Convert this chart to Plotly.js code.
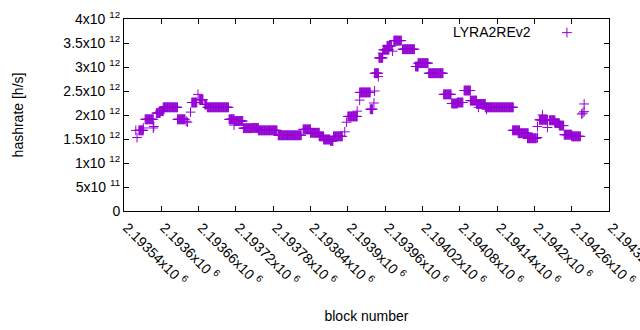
<!DOCTYPE html>
<html>
<head>
<meta charset="utf-8">
<script src="https://cdn.plot.ly/plotly-3.0.1.min.js"></script>
<style>html,body{margin:0;padding:0;background:#fff;}#chart{width:640px;height:330px;}</style>
</head>
<body>
<div id="chart"></div>
<script>
// Each entry: a run of consecutive blocks (start..end) sharing one hashrate reading (h/s)
const runStart = [2193559,2193561,2193564,2193571,2193574,2193587,2193588,2193592,2193598,2193603,2193626,2193640,2193642,2193647,2193649,2193659,2193661,2193670,2193674,2193709,2193717,2193718,2193732,2193746,2193756,2193788,2193828,2193840,2193854,2193861,2193872,2193877,2193895,2193898,2193900,2193915,2193919,2193919,2193936,2193942,2193943,2193943,2193949,2193950,2193956,2193957,2193963,2193972,2193974,2193988,2194009,2194013,2194030,2194054,2194067,2194076,2194087,2194097,2194107,2194110,2194121,2194123,2194165,2194174,2194189,2194205,2194205,2194208,2194213,2194221,2194224,2194233,2194240,2194248,2194260,2194276,2194278,2194280,2194280];
const runEnd   = [2193559,2193561,2193571,2193571,2193587,2193587,2193588,2193598,2193603,2193626,2193638,2193640,2193642,2193647,2193657,2193659,2193667,2193673,2193708,2193717,2193717,2193731,2193745,2193756,2193786,2193825,2193840,2193854,2193861,2193871,2193876,2193891,2193895,2193898,2193915,2193915,2193919,2193936,2193940,2193942,2193943,2193949,2193949,2193956,2193956,2193966,2193970,2193972,2193986,2194007,2194013,2194029,2194053,2194066,2194076,2194085,2194097,2194107,2194121,2194110,2194166,2194123,2194176,2194190,2194203,2194205,2194205,2194221,2194213,2194221,2194233,2194240,2194247,2194260,2194274,2194276,2194278,2194280,2194280];
const runHashrate = [1.68e12,1.53e12,1.68e12,1.73e12,1.91e12,1.73e12,1.76e12,2.04e12,2.08e12,2.16e12,1.91e12,1.87e12,1.85e12,2.06e12,2.26e12,2.43e12,2.32e12,2.22e12,2.16e12,1.91e12,1.79e12,1.875e12,1.725e12,1.73e12,1.68e12,1.577e12,1.70e12,1.63e12,1.555e12,1.49e12,1.46e12,1.555e12,1.65e12,1.85e12,1.97e12,2.08e12,2.31e12,2.47e12,2.12e12,2.25e12,2.50e12,2.87e12,2.80e12,3.19e12,3.29e12,3.36e12,3.44e12,3.33e12,3.55e12,3.37e12,3.01e12,3.08e12,2.87e12,2.43e12,2.24e12,2.26e12,2.51e12,2.30e12,2.23e12,2.16e12,2.16e12,2.12e12,1.68e12,1.62e12,1.515e12,1.53e12,1.76e12,1.90e12,2.0e12,1.74e12,1.89e12,1.83e12,1.78e12,1.59e12,1.555e12,2.02e12,2.04e12,2.07e12,2.23e12];

const xTickVals = [2193540,2193600,2193660,2193720,2193780,2193840,2193900,2193960,2194020,2194080,2194140,2194200,2194260,2194320];
const xTickText = ["2.19354x10 <sup>6</sup>","2.1936x10 <sup>6</sup>","2.19366x10 <sup>6</sup>","2.19372x10 <sup>6</sup>","2.19378x10 <sup>6</sup>","2.19384x10 <sup>6</sup>","2.1939x10 <sup>6</sup>","2.19396x10 <sup>6</sup>","2.19402x10 <sup>6</sup>","2.19408x10 <sup>6</sup>","2.19414x10 <sup>6</sup>","2.1942x10 <sup>6</sup>","2.19426x10 <sup>6</sup>","2.19432x10 <sup>6</sup>"];
const yTickVals = [0,5e11,1e12,1.5e12,2e12,2.5e12,3e12,3.5e12,4e12];
const yTickText = ["0","5x10 <sup>11</sup>","1x10 <sup>12</sup>","1.5x10 <sup>12</sup>","2x10 <sup>12</sup>","2.5x10 <sup>12</sup>","3x10 <sup>12</sup>","3.5x10 <sup>12</sup>","4x10 <sup>12</sup>"];
const seriesName = "LYRA2REv2";

const xs = [], ys = [];
for (let i = 0; i < runStart.length; i++) {
  for (let b = runStart[i]; b <= runEnd[i]; b++) { xs.push(b); ys.push(runHashrate[i]); }
}

const purple = '#9400D3';
const font = {family: 'Liberation Sans, Arial, sans-serif', size: 14, color: '#000'};

Plotly.newPlot('chart', [{
  type: 'scatter', mode: 'markers', x: xs, y: ys, name: ' ',
  marker: {symbol: 'cross-thin-open', size: 7, color: purple, line: {color: purple, width: 1}},
  hoverinfo: 'skip'
}], {
  width: 640, height: 330,
  margin: {l: 124, r: 30.5, t: 19, b: 119},
  paper_bgcolor: '#fff', plot_bgcolor: '#fff',
  font: font,
  showlegend: true,
  legend: {x: 0.872, xanchor: 'left', y: 0.927, yanchor: 'middle', bgcolor: 'rgba(0,0,0,0)', font: font},
  annotations: [{text: seriesName, xref: 'paper', yref: 'paper', x: 0.8424, y: 0.932, xanchor: 'right', yanchor: 'middle', showarrow: false, font: font}],
  xaxis: {
    range: [2193540, 2194320], tickmode: 'array', tickvals: xTickVals, ticktext: xTickText,
    tickangle: 45, ticks: 'inside', ticklen: 5, tickcolor: '#000',
    ticklabelstandoff: 2, ticklabelshift: 3, ticklabeloverflow: 'allow',
    showline: true, linecolor: '#000', linewidth: 1, mirror: 'ticks', showgrid: false, zeroline: false,
    title: {text: 'block number', font: font, standoff: 22}
  },
  yaxis: {
    range: [0, 4e12], tickmode: 'array', tickvals: yTickVals, ticktext: yTickText,
    ticks: 'inside', ticklen: 5, tickcolor: '#000',
    showline: true, linecolor: '#000', linewidth: 1, mirror: 'ticks', showgrid: false, zeroline: false,
    title: {text: 'hashrate [h/s]', font: font, standoff: 36}
  }
}, {staticPlot: true});
</script>
</body>
</html>
